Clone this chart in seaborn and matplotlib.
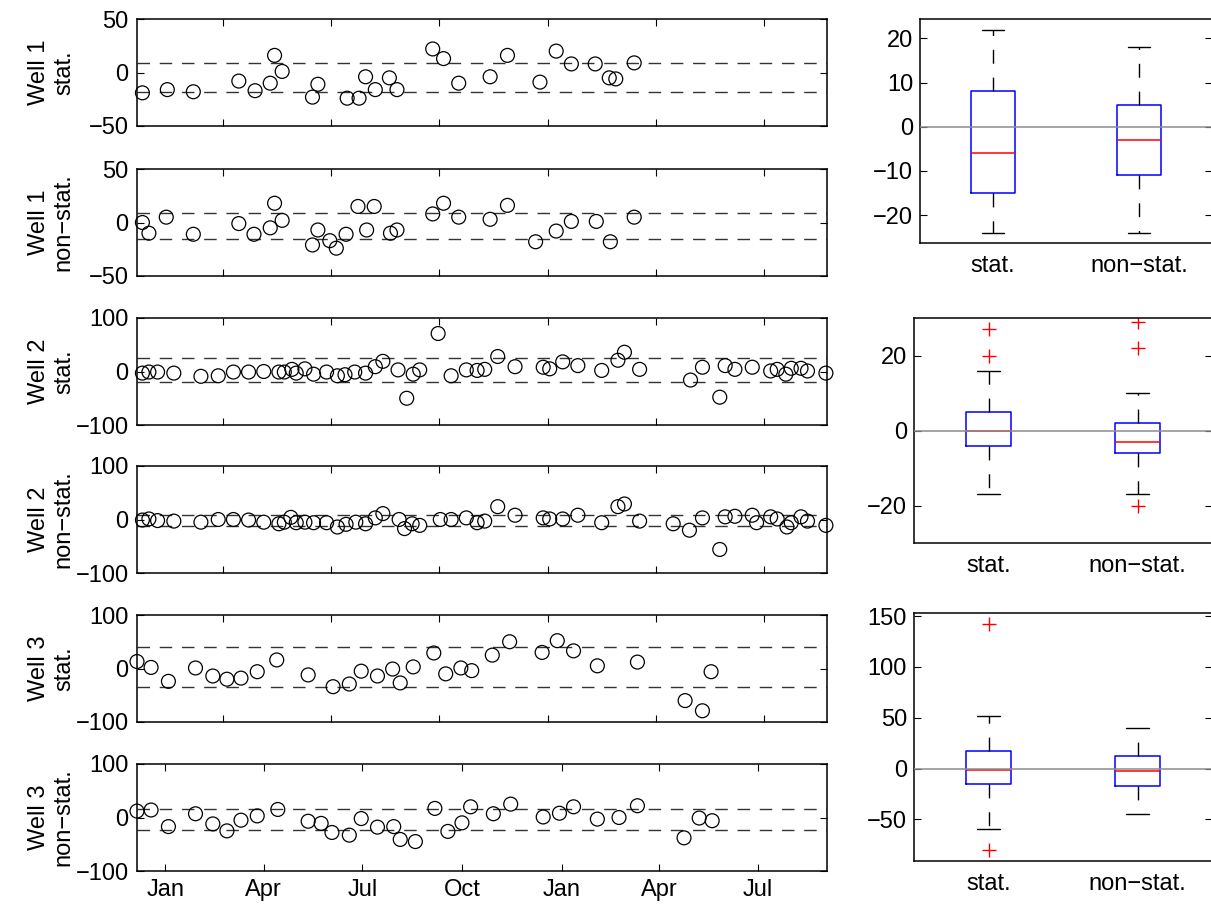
import matplotlib
matplotlib.use('Agg')
import matplotlib.pyplot as plt
import matplotlib.dates as mdates
import seaborn as sns
import pandas as pd

sns.set_theme(style='white', rc={'text.color': 'black', 'axes.labelcolor': 'black',
                                 'xtick.color': 'black', 'ytick.color': 'black',
                                 'axes.edgecolor': 'black'})
plt.rcParams['font.family'] = ['Liberation Sans', 'DejaVu Sans']
plt.rcParams['axes.unicode_minus'] = True

FS = 17

# time axis (days counted from START)
START = '2003-12-06'
X_MAX = '2005-09-03'

# Well 1
W1S_DAYS = [5, 28, 52, 94, 109, 123, 127, 134, 162, 167, 194, 205, 211, 220, 233, 240,
            273, 283, 297, 326, 342, 372, 387, 401, 423, 436, 442, 459]
W1S_VAL = [-19, -16, -18, -8, -17, -10, 16, 1, -23, -11, -24, -24, -4, -16, -5, -16,
           22, 13, -10, -4, 16, -9, 20, 8, 8, -5, -6, 9]
W1N_DAYS = [5, 11, 27, 52, 94, 108, 123, 127, 134, 162, 167, 178, 184, 193, 204, 212,
            219, 234, 240, 273, 283, 297, 326, 342, 368, 387, 401, 424, 437, 459]
W1N_VAL = [0, -10, 5, -11, -1, -11, -5, 18, 2, -21, -7, -17, -24, -11, 15, -7,
           15, -10, -7, 8, 18, 5, 3, 16, -18, -8, 1, 1, -18, 5]

# Well 2
W2S_DAYS = [5, 11, 19, 34, 59, 75, 89, 103, 117, 131, 136, 143, 147, 155, 163, 175,
            185, 192, 201, 211, 220, 227, 241, 249, 255, 261, 278, 290, 304, 314, 321,
            333, 349, 375, 381, 393, 407, 429, 444, 450, 464, 511, 522, 538, 543, 552,
            568, 585, 591, 599, 604, 613, 619, 636]
W2S_VAL = [-3, -1, -1, -3, -9, -8, -1, -1, 0, -1, -1, 4, -3, 5, -5, -1,
           -8, -6, -1, -3, 9, 19, 3, -50, -5, 3, 71, -8, 3, 2, 4,
           28, 9, 8, 5, 18, 11, 2, 21, 36, 4, -16, 8, -48, 11, 4,
           8, 1, 4, -5, 6, 6, 1, -3]
W2N_DAYS = [5, 11, 19, 34, 59, 75, 89, 103, 117, 131, 136, 142, 147, 155, 163, 175,
            185, 193, 202, 211, 220, 227, 242, 247, 254, 261, 280, 290, 304, 314, 321,
            333, 349, 375, 381, 393, 407, 429, 444, 450, 464, 495, 510, 522, 538, 543,
            552, 568, 572, 585, 591, 600, 604, 613, 619, 636]
W2N_VAL = [-1, 1, -2, -3, -5, 0, 0, -1, -5, -8, -5, 4, -6, -5, -6, -6,
           -14, -9, -5, -8, 3, 11, 0, -17, -8, -11, 0, 0, 3, -6, -3,
           24, 8, 3, 1, 1, 8, -6, 24, 29, -3, -8, -20, 3, -56, 5,
           6, 8, -6, 5, 1, -14, -6, 5, -3, -11]

# Well 3
W3S_DAYS = [0, 13, 29, 54, 70, 83, 96, 111, 129, 158, 181, 196, 207, 222, 236, 243,
            255, 274, 285, 299, 309, 328, 344, 374, 388, 403, 425, 462, 506, 522, 530]
W3S_VAL = [13, 2, -24, 1, -14, -20, -18, -6, 16, -12, -34, -29, -5, -14, -1, -27,
           3, 29, -10, 1, -4, 25, 50, 30, 52, 33, 5, 12, -60, -79, -6]
W3N_DAYS = [0, 13, 29, 54, 70, 83, 96, 111, 130, 158, 170, 180, 196, 207, 222, 237,
            243, 257, 275, 287, 300, 308, 329, 345, 375, 390, 403, 425, 445, 462, 505,
            519, 531]
W3N_VAL = [12, 14, -17, 7, -12, -25, -5, 3, 15, -7, -11, -28, -33, -2, -18, -17,
           -41, -45, 17, -26, -10, 20, 7, 25, 1, 8, 20, -3, 0, 22, -38, -1, -6]

# dashed band (upper, lower) per panel
BANDS = [(9, -18), (9, -15), (26, -19), (9, -12), (40, -34), (16, -24)]

# boxplot summaries: [stat., non-stat.]
BOX_LABELS = ['stat.', 'non\u2212stat.']
BOX_MED = [[-6, -3], [0, -3], [-1, -2.5]]
BOX_Q1 = [[-15, -11], [-4, -6], [-15, -17]]
BOX_Q3 = [[8, 5], [5, 2], [17, 12]]
BOX_LO = [[-24, -24], [-17, -17], [-60, -45]]
BOX_HI = [[22, 18], [16, 10], [52, 40]]
BOX_FLIERS = [[[], []], [[27, 20], [29, 22, -20]], [[142, -80], []]]
BOX_YLIM = [(-26.3, 24.4), (-30, 30), (-91, 153)]
BOX_YTICKS = [[-20, -10, 0, 10, 20], [-20, 0, 20], [-50, 0, 50, 100, 150]]

panels = [
    ('Well 1\nstat.', W1S_DAYS, W1S_VAL, 50),
    ('Well 1\nnon\u2212stat.', W1N_DAYS, W1N_VAL, 50),
    ('Well 2\nstat.', W2S_DAYS, W2S_VAL, 100),
    ('Well 2\nnon\u2212stat.', W2N_DAYS, W2N_VAL, 100),
    ('Well 3\nstat.', W3S_DAYS, W3S_VAL, 100),
    ('Well 3\nnon\u2212stat.', W3N_DAYS, W3N_VAL, 100),
]

W, H = 1211, 907
fig = plt.figure(figsize=(W / 100, H / 100), dpi=100)

def px_axes(left, top, right, bottom):
    return fig.add_axes([left / W, 1 - bottom / H, (right - left) / W, (bottom - top) / H])

left_tops = [19, 169, 318, 466, 615, 764]
t0 = pd.Timestamp(START)
x_lo = mdates.date2num(t0)
x_hi = mdates.date2num(pd.Timestamp(X_MAX))
day_ticks = [mdates.date2num(pd.Timestamp('2004-02-23') + pd.Timedelta(days=100 * k)) for k in range(6)]

for i, (label, days, vals, lim) in enumerate(panels):
    ax = px_axes(137, left_tops[i], 827, left_tops[i] + 107)
    df = pd.DataFrame({'date': t0 + pd.to_timedelta(days, unit='D'), 'value': vals})
    for yb in BANDS[i]:
        ax.axhline(yb, color='0.2', lw=1.0, ls=(0, (9, 7)), zorder=1)
    sns.scatterplot(data=df, x='date', y='value', ax=ax, marker='o', s=100,
                    facecolor='none', edgecolor='black', linewidth=0.9,
                    clip_on=False, zorder=3)
    ax.set_xlim(x_lo, x_hi)
    ax.set_ylim(-lim, lim)
    ax.set_yticks([-lim, 0, lim])
    ax.set_xlabel('')
    ax.set_ylabel(label, fontsize=FS, linespacing=1.15)
    ax.yaxis.set_label_coords(-0.09, 0.5)
    if i < 5:
        ax.set_xticks(day_ticks)
        ax.tick_params(axis='x', labelbottom=False)
    else:
        ax.xaxis.set_major_locator(mdates.MonthLocator(bymonth=[1, 4, 7, 10]))
        ax.xaxis.set_major_formatter(mdates.DateFormatter('%b'))
        ax.set_xlim(x_lo, x_hi)
    ax.tick_params(direction='in', length=5, width=0.8, top=True, right=True,
                   bottom=True, left=True, labelsize=FS, pad=6)
    for sp in ax.spines.values():
        sp.set_linewidth(1.1)
        sp.set_color('black')

box_rects = [(920, 19, 1212, 243), (914, 318, 1212, 543), (914, 613, 1212, 861)]
for j, rect in enumerate(box_rects):
    ax = px_axes(*rect)
    stats = []
    for k in range(2):
        stats.append({'label': BOX_LABELS[k], 'med': BOX_MED[j][k], 'q1': BOX_Q1[j][k],
                      'q3': BOX_Q3[j][k], 'whislo': BOX_LO[j][k], 'whishi': BOX_HI[j][k],
                      'fliers': BOX_FLIERS[j][k]})
    ax.bxp(stats, positions=[1, 2], widths=0.3, showfliers=True,
           boxprops=dict(color='blue', lw=1.1),
           medianprops=dict(color='red', lw=1.1),
           whiskerprops=dict(color='black', lw=1.0, ls=(0, (10, 10))),
           capprops=dict(color='black', lw=1.0),
           flierprops=dict(marker='+', markeredgecolor='red', markersize=10,
                           markeredgewidth=1.0, linestyle='none'))
    ax.axhline(0, color='0.55', lw=1.1, zorder=5)
    ax.set_xlim(0.5, 2.5)
    ax.set_ylim(*BOX_YLIM[j])
    ax.set_yticks(BOX_YTICKS[j])
    ax.tick_params(axis='x', length=0, labelsize=FS, pad=9)
    ax.tick_params(axis='y', direction='in', length=5, width=0.8, left=True, right=True,
                   labelsize=FS, pad=5)
    for sp in ax.spines.values():
        sp.set_linewidth(1.1)
        sp.set_color('black')

fig.savefig('out.png', dpi=100)
